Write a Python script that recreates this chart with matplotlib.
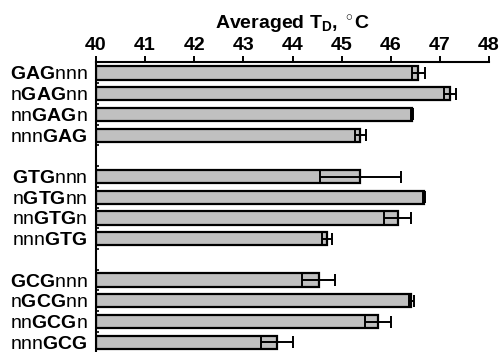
import matplotlib
matplotlib.use("Agg")
import matplotlib.pyplot as plt
import numpy as np

plt.rcParams['font.family'] = ['Liberation Sans', 'DejaVu Sans']
plt.rcParams['mathtext.fontset'] = 'custom'
plt.rcParams['mathtext.rm'] = 'Liberation Sans'
plt.rcParams['mathtext.bf'] = 'Liberation Sans:bold'
plt.rcParams['mathtext.it'] = 'Liberation Sans:italic'

motifs = ['GAG', 'GTG', 'GCG']
patterns = [('', 'nnn'), ('n', 'nn'), ('nn', 'n'), ('nnn', '')]
values = [46.56, 47.21, 46.43, 45.38,
          45.38, 46.68, 46.14, 44.70,
          44.53, 46.42, 45.74, 43.68]
errors = [0.13, 0.12, 0.02, 0.11,
          0.82, 0.02, 0.28, 0.10,
          0.33, 0.05, 0.26, 0.32]
xticks = [40, 41, 42, 43, 44, 45, 46, 47, 48]

labels = []
positions = []
for g, m in enumerate(motifs):
    for k, (pre, post) in enumerate(patterns):
        s = ''
        if pre:
            s += r'\mathrm{' + pre + '}'
        s += r'\mathbf{' + m + '}'
        if post:
            s += r'\mathrm{' + post + '}'
        labels.append('$' + s + '$')
        positions.append(g * 5 + k)

fig = plt.figure(figsize=(5.0, 3.52), dpi=100)
ax = fig.add_axes([0.192, 0.0, 0.786, 0.825])

base = xticks[0]
ax.barh(positions, np.array(values) - base, left=base, height=0.64,
        color='#c0c0c0', edgecolor='black', linewidth=1.6, zorder=2)
ax.errorbar(values, positions, xerr=errors, fmt='none', ecolor='black',
            elinewidth=1.4, capsize=4.5, capthick=1.4, zorder=3)

ax.set_xlim(40, 48)
ax.set_ylim(13.47, -0.55)
ax.xaxis.tick_top()
ax.xaxis.set_label_position('top')
ax.set_xticks(xticks)
ax.set_xticklabels([str(t) for t in xticks], fontsize=14, fontweight='bold')
ax.tick_params(axis='x', direction='out', length=4.5, width=1.4, pad=1)

ax.set_yticks(positions)
ax.set_yticklabels(labels, fontsize=14)
ax.tick_params(axis='y', which='major', length=0, pad=6)
ax.set_yticks(np.arange(0.5, 13, 1.0), minor=True)
ax.tick_params(axis='y', which='minor', direction='in', length=2, width=1.2)

for sp in ['bottom', 'right']:
    ax.spines[sp].set_visible(False)
for sp in ['top', 'left']:
    ax.spines[sp].set_linewidth(1.5)

ax.set_xlabel(r'Averaged T$_\mathbf{D}$, $^\circ$C', fontsize=14,
              fontweight='bold', labelpad=5)

fig.savefig('out.png', dpi=100)
